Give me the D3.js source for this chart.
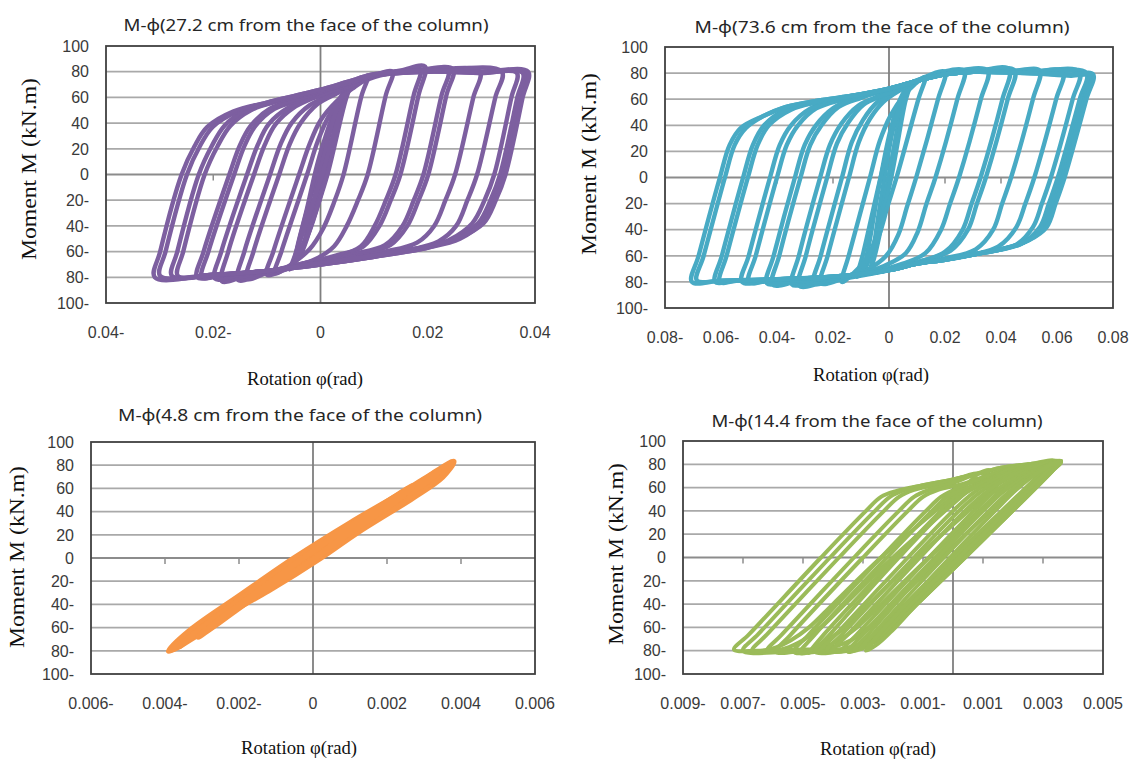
<!DOCTYPE html>
<html>
<head>
<meta charset="utf-8">
<title>M-φ hysteresis curves</title>
<script src="https://cdn.jsdelivr.net/npm/d3@7"></script>
<style>
  html, body { margin: 0; padding: 0; background: #ffffff; }
  svg { display: block; }
</style>
</head>
<body>
<svg id="chart" width="1133" height="760"></svg>
<script>
// Chart texts.
var panelTitles = [
  'M-φ(27.2 cm from the face of the column)',
  'M-φ(73.6 cm from the face of the column)',
  'M-φ(4.8 cm from the face of the column)',
  'M-φ(14.4 from the face of the column)'
];
var rotationTitle = 'Rotation φ(rad)';
var momentTitle   = 'Moment M (kN.m)';

// Tick values.
var momentTicks     = [100, 80, 60, 40, 20, 0, -20, -40, -60, -80, -100];
var rotationTicks27 = [-0.04, -0.02, 0, 0.02, 0.04];
var rotationTicks73 = [-0.08, -0.06, -0.04, -0.02, 0, 0.02, 0.04, 0.06, 0.08];
var rotationTicks48 = [-0.006, -0.004, -0.002, 0, 0.002, 0.004, 0.006];
var rotationTicks14 = [-0.009, -0.007, -0.005, -0.003, -0.001, 0.001, 0.003, 0.005];

// Hysteresis loops, [rotation (rad), moment (kN.m)].
var loops27 = [
  [[0.0040,60],[0.0030,42],[0.0012,10],[-0.0008,-25],[-0.0030,-52],[-0.0048,-68],[-0.0040,-52],[-0.0020,-20],[0.0000,12],[0.0020,38],[0.0032,52]],
  [[0.0044,64],[0.0036,50],[0.0018,16],[-0.0002,-20],[-0.0026,-50],[-0.0050,-70],[-0.0043,-56],[-0.0026,-28],[-0.0006,8],[0.0016,38],[0.0032,56]],
  [[-0.0035,-62],[-0.0025,-44],[-0.0008,-12],[0.0010,20],[0.0028,48],[0.0050,66],[0.0040,54],[0.0020,22],[0.0002,-8],[-0.0018,-40]],
  [[-0.0057,-74],[-0.0045,-60],[0.0003,0],[0.0022,28],[0.0040,52],[0.0059,72],[0.0047,58],[0.0013,0],[-0.0005,-24],[-0.0025,-48],[-0.0045,-66]],
  [[-0.0085,-77],[-0.0073,-60],[-0.0025,0],[-0.0005,26],[0.0015,45],[0.0040,60],[0.0065,70],[0.0089,77],[0.0077,62],[0.0043,0],[0.0025,-22],[0.0005,-42],[-0.0020,-58],[-0.0055,-70]],
  [[-0.0100,-78],[-0.0088,-60],[-0.0040,0],[-0.0020,24],[0.0000,42],[0.0030,57],[0.0060,67],[0.0090,75],[0.0134,80],[0.0122,62],[0.0088,0],[0.0070,-20],[0.0049,-40],[0.0025,-56],[-0.0010,-66],[-0.0060,-73]],
  [[-0.0137,-81],[-0.0125,-60],[-0.0077,0],[-0.0057,24],[-0.0037,40],[-0.0005,55],[0.0030,63],[0.0070,71],[0.0110,77],[0.0150,80],[0.0186,82],[0.0174,62],[0.0140,0],[0.0122,-20],[0.0101,-40],[0.0075,-56],[0.0030,-64],[-0.0030,-69],[-0.0090,-75]],
  [[-0.0154,-82],[-0.0142,-60],[-0.0094,0],[-0.0074,24],[-0.0054,40],[-0.0020,54],[0.0020,62],[0.0060,70],[0.0100,77],[0.0150,81],[0.0195,84],[0.0183,62],[0.0149,0],[0.0131,-20],[0.0110,-40],[0.0080,-56],[0.0030,-63],[-0.0030,-69],[-0.0100,-76]],
  [[-0.0184,-83],[-0.0172,-60],[-0.0124,0],[-0.0104,23],[-0.0084,39],[-0.0050,52],[-0.0010,60],[0.0030,66],[0.0070,73],[0.0120,79],[0.0180,81],[0.0238,81],[0.0226,62],[0.0192,0],[0.0174,-20],[0.0153,-40],[0.0120,-55],[0.0060,-62],[0.0000,-68],[-0.0080,-75],[-0.0140,-79]],
  [[-0.0197,-81],[-0.0185,-60],[-0.0137,0],[-0.0117,23],[-0.0097,39],[-0.0060,52],[-0.0020,59],[0.0020,65],[0.0060,72],[0.0100,77],[0.0180,81],[0.0247,82],[0.0235,62],[0.0201,0],[0.0183,-20],[0.0162,-40],[0.0130,-55],[0.0070,-62],[0.0000,-68],[-0.0080,-74],[-0.0150,-78]],
  [[-0.0221,-80],[-0.0209,-60],[-0.0161,0],[-0.0141,23],[-0.0121,38],[-0.0086,51],[-0.0040,58],[0.0000,64],[0.0050,71],[0.0100,77],[0.0200,81],[0.0297,80],[0.0285,60],[0.0251,0],[0.0233,-20],[0.0212,-40],[0.0180,-53],[0.0120,-60],[0.0050,-65],[0.0000,-69],[-0.0100,-75],[-0.0180,-78]],
  [[-0.0230,-80],[-0.0218,-60],[-0.0170,0],[-0.0150,23],[-0.0130,38],[-0.0095,51],[-0.0050,58],[0.0000,64],[0.0050,71],[0.0100,77],[0.0200,80],[0.0338,80],[0.0326,60],[0.0292,0],[0.0274,-20],[0.0253,-40],[0.0220,-52],[0.0150,-60],[0.0100,-64],[0.0000,-70],[-0.0100,-75],[-0.0180,-78]],
  [[-0.0266,-79],[-0.0256,-60],[-0.0216,0],[-0.0192,22],[-0.0168,38],[-0.0130,50],[-0.0080,57],[-0.0040,61],[0.0000,65],[0.0050,71],[0.0100,77],[0.0200,80],[0.0300,79],[0.0366,79],[0.0356,60],[0.0324,0],[0.0306,-20],[0.0283,-38],[0.0240,-51],[0.0200,-57],[0.0100,-64],[0.0000,-70],[-0.0100,-75],[-0.0200,-78]],
  [[-0.0277,-79],[-0.0267,-60],[-0.0227,0],[-0.0203,22],[-0.0179,38],[-0.0140,50],[-0.0100,55],[-0.0050,60],[0.0000,65],[0.0050,71],[0.0100,77],[0.0200,80],[0.0300,79],[0.0377,79],[0.0367,60],[0.0335,0],[0.0317,-20],[0.0294,-38],[0.0250,-50],[0.0200,-56],[0.0100,-63],[0.0000,-69],[-0.0100,-75],[-0.0200,-78]],
  [[-0.0299,-79],[-0.0289,-60],[-0.0249,0],[-0.0225,22],[-0.0201,37],[-0.0155,49],[-0.0100,56],[-0.0050,61],[0.0000,66],[0.0050,72],[0.0100,78],[0.0200,81],[0.0300,80],[0.0383,79],[0.0373,60],[0.0341,0],[0.0323,-20],[0.0300,-38],[0.0260,-50],[0.0200,-57],[0.0100,-64],[0.0000,-70],[-0.0100,-75],[-0.0200,-78]],
  [[-0.0309,-80],[-0.0299,-60],[-0.0259,0],[-0.0235,22],[-0.0211,37],[-0.0163,49],[-0.0100,56],[-0.0050,61],[0.0000,66],[0.0050,72],[0.0100,78],[0.0200,81],[0.0300,80],[0.0387,80],[0.0377,60],[0.0345,0],[0.0327,-20],[0.0304,-38],[0.0260,-49],[0.0200,-56],[0.0100,-63],[0.0000,-69],[-0.0100,-75],[-0.0200,-78]]
];

var loops73 = [
  [[-0.0064,-70],[-0.0052,-50],[-0.0022,-8],[0.0015,38],[0.0050,64],[0.0038,46],[0.0005,6],[-0.0030,-40]],
  [[-0.0090,-72],[-0.0072,-52],[-0.0035,-6],[0.0005,36],[0.0040,60],[0.0062,68],[0.0045,54],[0.0005,8],[-0.0035,-36],[-0.0070,-62]],
  [[-0.0114,-76],[-0.0092,-58],[-0.0030,0],[0.0010,34],[0.0048,60],[0.0077,72],[0.0058,58],[0.0008,0],[-0.0030,-34],[-0.0075,-62],[-0.0100,-72]],
  [[-0.0168,-80],[-0.0144,-60],[-0.0068,0],[-0.0033,28],[0.0007,48],[0.0050,62],[0.0090,71],[0.0129,77],[0.0105,60],[0.0027,0],[-0.0005,-22],[-0.0037,-45],[-0.0080,-62],[-0.0130,-74]],
  [[-0.0243,-81],[-0.0219,-60],[-0.0143,0],[-0.0108,27],[-0.0068,45],[-0.0020,58],[0.0040,67],[0.0100,74],[0.0199,81],[0.0175,60],[0.0097,0],[0.0065,-22],[0.0033,-44],[-0.0010,-60],[-0.0080,-71],[-0.0170,-78]],
  [[-0.0268,-81],[-0.0244,-60],[-0.0168,0],[-0.0133,27],[-0.0093,44],[-0.0040,58],[0.0020,65],[0.0080,72],[0.0150,78],[0.0268,82],[0.0244,60],[0.0166,0],[0.0134,-20],[0.0102,-42],[0.0060,-58],[-0.0020,-68],[-0.0120,-75],[-0.0200,-79]],
  [[-0.0321,-83],[-0.0297,-60],[-0.0221,0],[-0.0186,26],[-0.0146,42],[-0.0090,56],[-0.0020,63],[0.0050,70],[0.0120,76],[0.0200,80],[0.0352,82],[0.0328,60],[0.0250,0],[0.0218,-20],[0.0186,-40],[0.0130,-58],[0.0050,-66],[-0.0050,-72],[-0.0200,-78]],
  [[-0.0346,-82],[-0.0322,-60],[-0.0246,0],[-0.0211,25],[-0.0171,41],[-0.0110,55],[-0.0040,62],[0.0030,67],[0.0100,74],[0.0200,79],[0.0300,81],[0.0429,83],[0.0405,60],[0.0327,0],[0.0295,-20],[0.0263,-40],[0.0200,-57],[0.0100,-65],[0.0000,-71],[-0.0150,-77],[-0.0270,-80]],
  [[-0.0416,-82],[-0.0392,-60],[-0.0316,0],[-0.0281,25],[-0.0241,40],[-0.0180,54],[-0.0100,61],[-0.0030,66],[0.0050,70],[0.0100,74],[0.0200,79],[0.0300,81],[0.0448,82],[0.0424,60],[0.0346,0],[0.0314,-20],[0.0282,-40],[0.0220,-56],[0.0100,-65],[0.0000,-71],[-0.0150,-76],[-0.0330,-80]],
  [[-0.0436,-81],[-0.0412,-60],[-0.0336,0],[-0.0301,25],[-0.0261,40],[-0.0200,53],[-0.0120,61],[-0.0040,65],[0.0050,70],[0.0100,74],[0.0200,79],[0.0300,81],[0.0450,82],[0.0538,82],[0.0514,60],[0.0436,0],[0.0404,-20],[0.0372,-40],[0.0310,-55],[0.0200,-62],[0.0100,-66],[0.0000,-71],[-0.0200,-77],[-0.0350,-79]],
  [[-0.0500,-80],[-0.0476,-60],[-0.0400,0],[-0.0365,25],[-0.0325,40],[-0.0260,53],[-0.0160,60],[-0.0060,65],[0.0000,68],[0.0100,74],[0.0200,79],[0.0300,81],[0.0500,81],[0.0621,81],[0.0597,60],[0.0519,0],[0.0487,-20],[0.0455,-38],[0.0390,-53],[0.0300,-59],[0.0200,-63],[0.0100,-66],[0.0000,-71],[-0.0200,-76],[-0.0400,-78]],
  [[-0.0525,-80],[-0.0501,-60],[-0.0425,0],[-0.0390,25],[-0.0350,40],[-0.0280,53],[-0.0180,60],[-0.0080,64],[0.0000,68],[0.0100,74],[0.0200,79],[0.0300,81],[0.0500,81],[0.0680,81],[0.0656,60],[0.0578,0],[0.0546,-20],[0.0514,-38],[0.0450,-52],[0.0350,-57],[0.0200,-63],[0.0100,-66],[0.0000,-71],[-0.0200,-76],[-0.0400,-78]],
  [[-0.0604,-80],[-0.0580,-60],[-0.0504,0],[-0.0469,25],[-0.0429,40],[-0.0350,52],[-0.0250,58],[-0.0120,63],[0.0000,68],[0.0100,74],[0.0200,79],[0.0300,81],[0.0500,80],[0.0705,80],[0.0681,60],[0.0603,0],[0.0571,-20],[0.0539,-38],[0.0470,-51],[0.0400,-55],[0.0300,-59],[0.0200,-63],[0.0100,-66],[0.0000,-71],[-0.0200,-76],[-0.0400,-78],[-0.0540,-79]],
  [[-0.0621,-80],[-0.0597,-60],[-0.0521,0],[-0.0486,25],[-0.0446,40],[-0.0370,52],[-0.0250,58],[-0.0120,63],[0.0000,68],[0.0100,74],[0.0200,79],[0.0300,81],[0.0500,80],[0.0650,79],[0.0715,79],[0.0691,60],[0.0613,0],[0.0581,-20],[0.0549,-38],[0.0480,-50],[0.0400,-55],[0.0300,-59],[0.0200,-63],[0.0100,-66],[0.0000,-71],[-0.0200,-76],[-0.0400,-78],[-0.0550,-79]],
  [[-0.0686,-79],[-0.0662,-60],[-0.0586,0],[-0.0551,25],[-0.0511,38],[-0.0450,47],[-0.0370,54],[-0.0250,59],[-0.0120,63],[0.0000,68],[0.0100,74],[0.0200,79],[0.0300,81],[0.0500,80],[0.0650,78],[0.0722,78],[0.0698,60],[0.0620,0],[0.0588,-20],[0.0556,-38],[0.0500,-48],[0.0400,-55],[0.0300,-59],[0.0200,-63],[0.0100,-66],[0.0000,-71],[-0.0200,-76],[-0.0400,-78],[-0.0600,-79]],
  [[-0.0704,-80],[-0.0680,-60],[-0.0604,0],[-0.0569,25],[-0.0529,38],[-0.0450,47],[-0.0370,54],[-0.0250,59],[-0.0120,63],[0.0000,68],[0.0100,74],[0.0200,79],[0.0300,81],[0.0500,80],[0.0650,79],[0.0729,79],[0.0705,60],[0.0627,0],[0.0595,-20],[0.0563,-38],[0.0500,-48],[0.0400,-55],[0.0300,-59],[0.0200,-63],[0.0100,-66],[0.0000,-71],[-0.0200,-76],[-0.0400,-78],[-0.0600,-79]]
];

var loops48 = [
  [[-0.0039,-80],[-0.0033,-62],[-0.0020,-33],[-0.0005,0],[0.0010,30],[0.0025,58],[0.0032,72],[0.0038,83],[0.0035,70],[0.0027,52],[0.0012,22],[0.0002,0],[-0.0012,-28],[-0.0027,-55],[-0.0035,-73]],
  [[-0.0038,-79],[-0.0031,-62],[-0.0019,-35],[-0.0003,-2],[0.0012,29],[0.0027,58],[0.0036,78],[0.0033,68],[0.0024,48],[0.0009,17],[-0.0005,-12],[-0.0020,-42],[-0.0031,-66]],
  [[-0.0036,-76],[-0.0030,-60],[-0.0018,-32],[-0.0004,0],[0.0010,29],[0.0024,55],[0.0034,75],[0.0031,66],[0.0020,44],[0.0006,14],[-0.0008,-18],[-0.0022,-46],[-0.0032,-66]],
  [[-0.0031,-68],[-0.0024,-50],[-0.0012,-22],[0.0000,6],[0.0014,36],[0.0027,62],[0.0022,48],[0.0010,22],[-0.0002,-6],[-0.0016,-34],[-0.0026,-57]]
];

var loops14 = [
  [[-0.0073,-79],[-0.0068,-66],[-0.0044,0],[-0.0029,40],[-0.0024,52],[-0.0019,57],[-0.0010,62],[0.0000,67],[0.0010,73],[0.0016,77],[0.0025,80],[0.0035,82],[0.0032,74],[0.0003,0],[-0.0013,-40],[-0.0021,-60],[-0.0026,-72],[-0.0033,-78],[-0.0050,-79],[-0.0065,-80]],
  [[-0.0070,-80],[-0.0065,-66],[-0.0041,0],[-0.0026,40],[-0.0021,52],[-0.0016,58],[-0.0010,62],[0.0000,67],[0.0010,73],[0.0016,77],[0.0025,80],[0.0034,83],[0.0031,74],[0.0002,0],[-0.0014,-40],[-0.0022,-60],[-0.0028,-72],[-0.0036,-79],[-0.0055,-81]],
  [[-0.0067,-80],[-0.0062,-66],[-0.0038,0],[-0.0023,40],[-0.0018,52],[-0.0013,58],[-0.0003,64],[0.0008,72],[0.0005,64],[-0.0024,0],[-0.0040,-40],[-0.0048,-60],[-0.0054,-71],[-0.0060,-78]],
  [[-0.0062,-80],[-0.0057,-66],[-0.0033,0],[-0.0018,40],[-0.0013,52],[-0.0008,58],[0.0000,64],[0.0006,70],[0.0012,75],[0.0009,67],[-0.0020,0],[-0.0036,-40],[-0.0044,-60],[-0.0050,-71],[-0.0056,-78]],
  [[-0.0059,-81],[-0.0054,-66],[-0.0030,0],[-0.0015,40],[-0.0010,52],[-0.0005,58],[0.0003,63],[0.0010,69],[0.0016,74],[0.0028,80],[0.0025,71],[-0.0004,0],[-0.0020,-40],[-0.0028,-60],[-0.0034,-71],[-0.0042,-78],[-0.0050,-80]],
  [[-0.0053,-81],[-0.0048,-66],[-0.0024,0],[-0.0009,40],[-0.0004,52],[0.0002,60],[0.0010,68],[0.0018,75],[0.0027,80],[0.0036,82],[0.0033,74],[0.0004,0],[-0.0012,-40],[-0.0020,-60],[-0.0026,-72],[-0.0034,-79],[-0.0045,-81]],
  [[-0.0051,-82],[-0.0046,-66],[-0.0022,0],[-0.0007,40],[-0.0002,52],[0.0003,58],[0.0010,65],[0.0016,72],[0.0024,79],[0.0021,70],[-0.0008,0],[-0.0024,-40],[-0.0032,-60],[-0.0038,-71],[-0.0044,-78]],
  [[-0.0048,-82],[-0.0043,-66],[-0.0019,0],[-0.0004,40],[0.0001,52],[0.0006,60],[0.0013,68],[0.0020,77],[0.0017,68],[-0.0012,0],[-0.0028,-40],[-0.0036,-60],[-0.0042,-71],[-0.0046,-78]],
  [[-0.0046,-81],[-0.0041,-66],[-0.0018,0],[-0.0003,40],[0.0004,55],[0.0012,66],[0.0022,76],[0.0034,82],[0.0031,74],[0.0002,0],[-0.0014,-40],[-0.0022,-60],[-0.0028,-72],[-0.0037,-80]],
  [[-0.0044,-80],[-0.0039,-66],[-0.0015,0],[0.0000,40],[0.0007,56],[0.0015,68],[0.0024,77],[0.0033,82],[0.0030,73],[0.0001,0],[-0.0015,-40],[-0.0023,-60],[-0.0029,-72],[-0.0036,-78]],
  [[-0.0042,-80],[-0.0037,-66],[-0.0013,0],[0.0002,40],[0.0009,56],[0.0017,68],[0.0026,78],[0.0035,83],[0.0032,74],[0.0003,0],[-0.0013,-40],[-0.0021,-60],[-0.0027,-72],[-0.0034,-79]],
  [[-0.0040,-80],[-0.0035,-66],[-0.0011,0],[0.0004,40],[0.0011,56],[0.0019,69],[0.0027,78],[0.0036,83],[0.0033,74],[0.0004,0],[-0.0012,-40],[-0.0020,-60],[-0.0026,-72],[-0.0033,-79]],
  [[-0.0037,-80],[-0.0032,-66],[-0.0008,0],[0.0007,40],[0.0014,57],[0.0022,70],[0.0032,81],[0.0029,72],[0.0000,0],[-0.0016,-40],[-0.0024,-60],[-0.0030,-73]],
  [[-0.0035,-81],[-0.0030,-66],[-0.0006,0],[0.0009,40],[0.0016,57],[0.0025,72],[0.0035,82],[0.0032,74],[0.0003,0],[-0.0013,-40],[-0.0021,-60],[-0.0028,-74]],
  [[-0.0033,-80],[-0.0028,-65],[-0.0005,0],[0.0010,40],[0.0017,57],[0.0026,72],[0.0035,83],[0.0032,74],[0.0003,0],[-0.0013,-40],[-0.0021,-61],[-0.0027,-73]],
  [[-0.0031,-79],[-0.0026,-64],[-0.0003,0],[0.0012,40],[0.0019,57],[0.0027,72],[0.0034,82],[0.0031,73],[0.0002,0],[-0.0014,-40],[-0.0022,-62],[-0.0027,-73]],
  [[-0.0029,-80],[-0.0024,-64],[-0.0001,0],[0.0014,40],[0.0021,58],[0.0029,74],[0.0036,83],[0.0033,74],[0.0004,0],[-0.0012,-40],[-0.0020,-62],[-0.0025,-74]]
];

(function() { // Keep the drawing code out of the global scope.

  'use strict';

  var svg = d3.select('#chart');

  // Where each panel sits on the page.
  var panels = [
    { title: panelTitles[0], loops: loops27, ticks: rotationTicks27, color: '#7d5fa0', width: 4.4,
      left: 106, right: 535, top: 46, bottom: 303,
      titleX: 306, titleY: 31, titleLen: 365,
      xTitleX: 305, xTitleY: 385, yTitleX: 29, yTitleY: 169 },
    { title: panelTitles[1], loops: loops73, ticks: rotationTicks73, color: '#48aac4', width: 4.4,
      left: 665, right: 1113, top: 47, bottom: 308,
      titleX: 882, titleY: 33, titleLen: 375,
      xTitleX: 871, xTitleY: 381, yTitleX: 589, yTitleY: 164 },
    { title: panelTitles[2], loops: loops48, ticks: rotationTicks48, color: '#f79646', width: 6,
      left: 91, right: 535, top: 442, bottom: 674,
      titleX: 300, titleY: 421, titleLen: 364,
      xTitleX: 299, xTitleY: 754, yTitleX: 17, yTitleY: 557 },
    { title: panelTitles[3], loops: loops14, ticks: rotationTicks14, color: '#9bbb59', width: 4,
      left: 683, right: 1103, top: 441, bottom: 674,
      titleX: 877, titleY: 427, titleLen: 331,
      xTitleX: 878, xTitleY: 755, yTitleX: 616, yTitleY: 554 }
  ];

  panels.forEach(drawPanel);

  // Excel style labels: the minus sign trails the number.
  function tickLabel(v) {
    if (Math.abs(v) < 1e-12) return '0';
    var s = String(+Math.abs(v).toFixed(4));
    return v < 0 ? s + '-' : s;
  }

  function drawPanel(p, i) {
    var x = d3.scaleLinear()
              .domain([p.ticks[0], p.ticks[p.ticks.length - 1]])
              .range([p.left, p.right]);
    var y = d3.scaleLinear()
              .domain([-100, 100])
              .range([p.bottom, p.top]);

    var g = svg.append('g').attr('class', 'panel');

    g.append('clipPath')
     .attr('id', 'clip' + i)
     .append('rect')
     .attr('x', p.left).attr('y', p.top)
     .attr('width', p.right - p.left).attr('height', p.bottom - p.top);

    // Horizontal gridlines.
    g.selectAll('line.grid')
     .data(momentTicks.filter(function(v) { return Math.abs(v) < 100; }))
     .enter().append('line')
     .attr('class', 'grid')
     .attr('x1', p.left).attr('x2', p.right)
     .attr('y1', function(d) { return y(d); })
     .attr('y2', function(d) { return y(d); })
     .style('stroke', function(d) { return d === 0 ? '#8c8c8c' : '#a9a9a9'; })
     .style('stroke-width', 1.8);

    // Small ticks under the zero line.
    g.selectAll('line.tick')
     .data(p.ticks.slice(1, -1))
     .enter().append('line')
     .attr('class', 'tick')
     .attr('x1', function(d) { return x(d); })
     .attr('x2', function(d) { return x(d); })
     .attr('y1', y(0)).attr('y2', y(0) + 6)
     .style('stroke', '#8c8c8c')
     .style('stroke-width', 1.5);

    // Vertical axis through zero rotation.
    g.append('line')
     .attr('x1', x(0)).attr('x2', x(0))
     .attr('y1', p.top).attr('y2', p.bottom)
     .style('stroke', '#7f7f7f')
     .style('stroke-width', 1.8);

    // The loops.
    var line = d3.line()
                 .x(function(d) { return x(d[0]); })
                 .y(function(d) { return y(d[1]); })
                 .curve(d3.curveCatmullRomClosed.alpha(0.5));

    g.append('g')
     .attr('clip-path', 'url(#clip' + i + ')')
     .selectAll('path')
     .data(p.loops)
     .enter().append('path')
     .attr('d', line)
     .style('fill', 'none')
     .style('stroke', p.color)
     .style('stroke-width', p.width)
     .style('stroke-linejoin', 'round');

    // Plot frame.
    g.append('rect')
     .attr('x', p.left).attr('y', p.top)
     .attr('width', p.right - p.left).attr('height', p.bottom - p.top)
     .style('fill', 'none')
     .style('stroke', '#404040')
     .style('stroke-width', 1.8);

    // Moment labels.
    g.selectAll('text.ylab')
     .data(momentTicks)
     .enter().append('text')
     .attr('class', 'ylab')
     .attr('x', p.left - 17)
     .attr('y', function(d) { return y(d); })
     .attr('dy', '0.36em')
     .attr('text-anchor', 'end')
     .style('font', '16px "Liberation Sans", Arial, sans-serif')
     .style('fill', '#3a3a3a')
     .text(tickLabel);

    // Rotation labels.
    g.selectAll('text.xlab')
     .data(p.ticks)
     .enter().append('text')
     .attr('class', 'xlab')
     .attr('x', function(d) { return x(d); })
     .attr('y', p.bottom + 35)
     .attr('text-anchor', 'middle')
     .style('font', '16px "Liberation Sans", Arial, sans-serif')
     .style('fill', '#3a3a3a')
     .text(tickLabel);

    // Panel title.
    g.append('text')
     .attr('x', p.titleX).attr('y', p.titleY)
     .attr('text-anchor', 'middle')
     .attr('textLength', p.titleLen)
     .attr('lengthAdjust', 'spacingAndGlyphs')
     .style('font', '17px "Noto Sans", "Open Sans", sans-serif')
     .style('fill', '#262626')
     .text(p.title);

    // Axis titles.
    g.append('text')
     .attr('x', p.xTitleX).attr('y', p.xTitleY)
     .attr('text-anchor', 'middle')
     .attr('textLength', 116)
     .attr('lengthAdjust', 'spacingAndGlyphs')
     .style('font', '19px "Liberation Serif", "Times New Roman", serif')
     .style('fill', '#111')
     .text(rotationTitle);

    g.append('text')
     .attr('transform', 'translate(' + p.yTitleX + ',' + p.yTitleY + ') rotate(-90)')
     .attr('text-anchor', 'middle')
     .attr('dy', '0.35em')
     .attr('textLength', 182)
     .attr('lengthAdjust', 'spacingAndGlyphs')
     .style('font', '20px "Liberation Serif", "Times New Roman", serif')
     .style('fill', '#111')
     .text(momentTitle);
  }

})();
</script>
</body>
</html>
